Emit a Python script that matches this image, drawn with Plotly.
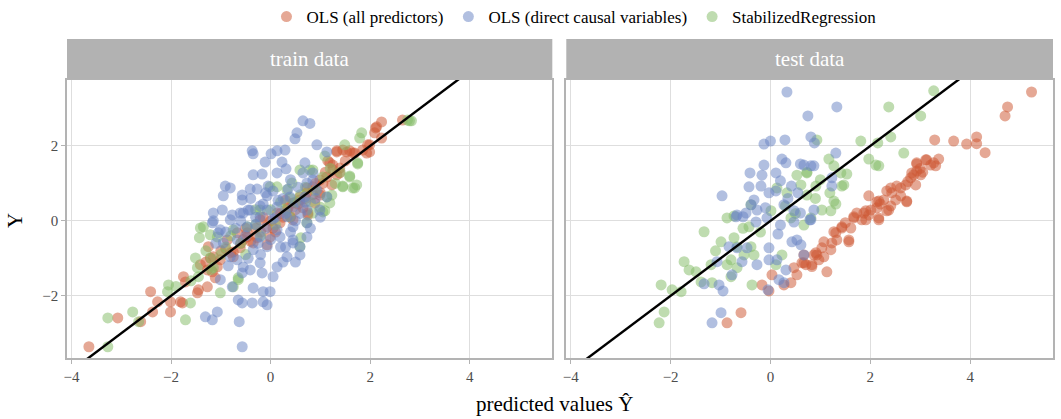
import plotly.graph_objects as go

# ---------------- data (predicted value, observed Y) ----------------
train_all_x = [-3.65, -3.07, -2.61, -2.41, -2.27, -2.37, -2.01, -2.01, -1.81, -1.77, -1.75, -1.71, -1.47, -1.45,
               -1.41, -1.27, -1.25, -1.21, -1.15, -1.17, -1.27, -1.11, -1.07, -1.01, -0.87, -0.75, -0.75, -0.61,
               -0.67, -0.47, -0.47, -0.35, -0.27, -0.21, -0.07, -0.07, -0.01, 0.05, 0.13, 0.19, 0.33, 0.45, 0.45,
               0.59, 0.59, 0.73, 0.73, 0.75, 0.75, 0.85, 0.89, 0.99, 0.99, 1.13, 1.15, 1.19, 1.23, 1.25, 1.25,
               1.33, 1.33, 1.33, 1.39, 1.39, 1.45, 1.53, 1.59, 1.65, 1.69, 1.85, 1.93, 1.95, 1.99, 1.99, 2.09,
               2.11, 2.13, 2.23, 2.23, 2.65, 0.25, -0.30, 0.50, 0.10, -0.55, 0.65, 0.30, -0.90,
               -0.20, 0.00, 0.20, 0.35, 0.55, 0.70, 0.85, -0.40, -0.60, -0.80, -1.00, -1.30, 0.90, 1.05, 1.10,
               -0.15, 0.40, -0.50, 1.00, 1.50]
train_all_y = [-3.36, -2.59, -2.69, -1.89, -2.16, -2.43, -2.43, -2.16, -2.16, -2.19, -1.49, -1.63, -1.92, -1.84,
               -1.17, -1.31, -0.69, -0.99, -0.96, -1.36, -1.76, -1.52, -1.23, -1.04, -0.51, -0.96, -0.83, -0.72,
               -0.32, -0.32, -0.43, -0.59, -0.45, 0.03, -0.64, -0.16, -0.43, -0.19, 0.21, -0.05, 0.29, 0.48, 0.03,
               0.64, 0.56, 0.75, 0.88, 0.21, 0.16, 0.91, 0.48, 1.09, 0.69, 1.17, 1.60, 1.55, 0.96, 1.36, 1.49,
               1.84, 1.23, 1.87, 1.28, 1.41, 1.89, 1.84, 1.87, 1.81, 1.81, 1.89, 1.81, 2.03, 1.84, 2.03, 2.35,
               2.48, 2.51, 2.64, 2.21, 2.69, 0.10, -0.20, 0.30, -0.30, -0.50, 0.35, 0.55, -0.75,
               -0.30, 0.00, 0.20, 0.35, 0.45, 0.60, 0.70, -0.55, -0.60, -0.85, -0.80, -1.10, 1.00, 1.00, 1.30,
               0.10, 0.10, -0.20, 0.75, 1.60]

train_direct_x = [0.65, 0.79, 0.53, 0.49, -0.37, -0.35, 0.01, 0.13, 0.29, 0.93, 1.13, -0.11, 0.23, 0.31, 0.69,
                  0.65, -0.35, -0.17, 0.13, 0.85, -0.91, -0.81, -0.95, -0.57, -0.57, -0.41, -0.27, -0.05, -0.07,
                  0.73, 0.85, 0.93, 0.39, 0.69, 1.13, -1.15, -0.97, -0.77, -0.55, -0.45, -0.21, 0.13, 0.45, 0.59,
                  0.73, 0.99, -1.15, -1.17, -1.01, -0.81, -0.61, -0.41, -0.21, -0.07, 0.33, 0.73, 0.45, 0.13,
                  -0.47, -0.21, 0.19, 0.45, 0.73, 0.59, 0.45, -0.07, -0.35, -0.67, -0.95, -1.05, 0.59, 0.33, 0.13,
                  0.05, -0.21, -0.41, -0.55, -0.67, -0.81, -0.57, -0.17, -1.01, -0.77, -0.35, -0.15, -0.01, -0.65,
                  -0.57, -0.37, -0.15, -0.07, -1.31, -1.07, -1.17, -0.63, -0.57, 0.05, 0.25, -0.30, 0.55, 0.30,
                  -0.10,
                  -0.30, -0.10, 0.10, 0.30, 0.50, 0.60, -0.50, -0.70, -0.90, -0.20, 0.00, 0.20, 0.40, 0.70, 0.90,
                  -0.40, -0.60, 0.35, 0.15, -0.25, 0.80, 1.00, -1.10, -0.85, -0.45, 0.25, 0.50, 0.05, -0.15, 0.40]
train_direct_y = [2.67, 2.60, 2.35, 2.19, 1.87, 1.79, 1.79, 1.87, 1.89, 2.03, 1.84, 1.57, 1.57, 1.39, 1.55,
                  1.28, 1.23, 1.25, 1.28, 1.28, 0.93, 0.88, 0.67, 0.69, 0.56, 0.85, 0.85, 0.93, 0.67,
                  1.01, 1.09, 0.83, 0.64, 0.64, 0.64, 0.21, 0.29, 0.16, 0.21, 0.29, 0.40, 0.37, 0.37, 0.48,
                  0.29, 0.29, 0.00, -0.05, -0.24, 0.03, 0.21, 0.29, 0.11, 0.29, 0.11, -0.05, -0.16, -0.24,
                  -0.16, -0.43, -0.43, -0.51, -0.43, -0.69, -0.59, -0.69, -0.77, -0.51, -0.59, -0.32, -0.91, -0.96,
                  -1.23, -1.49, -1.12, -1.31, -1.23, -1.04, -0.96, -1.39, -1.39, -1.57, -1.76, -1.79, -1.89, -1.89,
                  -2.11, -2.19, -2.19, -2.16, -2.24, -2.56, -2.43, -2.64, -2.69, -3.36, 0.05, 0.60, -0.10, 0.90,
                  -0.70, 0.75,
                  0.10, -0.20, 0.10, 0.20, 0.00, 0.20, -0.40, -0.20, -0.30, -0.90, -0.50, -0.70, -0.30, 0.50, 0.60,
                  0.60, 0.00, 0.85, 0.55, -0.60, -0.20, 0.10, -0.60, -1.20, -1.00, -1.10, -1.10, 0.80, 0.45, 1.10]

train_stab_x = [-3.27, -3.27, -2.77, -2.65, -2.05, -2.07, -1.71, -1.61, -1.51, -1.47, -1.41, -1.43, -1.21, -1.35,
                -1.01, -1.45, -1.15, -0.75, -0.65, -0.65, 0.59, 0.61, 0.43, 0.33, 0.13, -0.01, 0.59, 0.79, 0.85,
                1.05, 1.13, 1.19, 1.09, 1.05, 1.23, 1.49, 1.59, 1.59, 1.45, 1.45, 1.65, 1.69, 1.73, 1.75, 1.75,
                1.79, 1.83, 2.75, 2.83, 2.79, 1.09, 0.85, 0.99, 0.39, -0.21, -0.47, -0.75, -1.07, 0.73, -0.30,
                0.20, -0.90, -1.20, -0.50, 0.10, 0.60, 0.30, -0.20, -1.60, -1.90,
                -0.60, -0.80, -1.00, 0.40, 0.70, 0.90, 1.30, 1.40, -1.30, -0.30, 0.00, 0.50, -1.20, 1.20, 0.80]
train_stab_y = [-3.36, -2.59, -2.43, -2.69, -1.71, -1.89, -2.64, -2.19, -0.99, -1.25, -0.19, -0.45, -0.37, -0.16,
                -1.92, -1.49, -1.25, -1.76, -1.52, -1.57, -0.69, -0.45, 1.01, 0.83, 0.91, 0.91, 1.36, 1.36, 1.36,
                1.17, 0.64, 0.48, 0.27, 0.24, 0.69, 2.03, 1.17, 1.20, 0.91, 0.93, 0.88, 0.88, 0.96, 1.55, 1.52,
                2.21, 2.35, 2.69, 2.67, 2.67, 1.73, 0.21, 0.37, 0.11, 0.29, -0.16, -0.24, -0.43, -0.05, 0.30,
                0.50, -0.70, -1.00, -0.90, -0.10, 0.70, 0.30, -0.40, -1.60, -1.75,
                -0.60, -0.40, -0.90, 0.60, 0.90, 0.80, 1.00, 1.30, -0.80, -0.10, 0.30, 0.50, -1.30, 1.40, 0.50]

test_all_x = [5.23, 4.75, 4.70, 3.29, 3.67, 3.93, 4.13, 4.13, 4.30, 3.13, 3.37, 2.93, 3.21, 3.31, 2.93, 2.87,
              3.01, 2.81, 2.91, 2.71, 2.61, 2.53, 2.41, 2.33, 2.43, 2.61, 2.73, 2.51, 2.27, 1.97, 2.17, 2.41,
              2.33, 2.13, 2.01, 1.91, 1.73, 1.97, 2.17, 1.67, 1.83, 1.67, 1.91, 2.17, 1.61, 1.43, 1.27, 1.33,
              1.57, 1.07, 1.03, 1.21, 0.93, 1.07, 0.97, 0.83, 0.71, 1.13, 0.67, 0.87, 0.67, 0.47, 0.53, 0.41,
              0.27, 0.03, -0.17, -0.03, -0.59, -0.87, 0.63, 0.83, 0.91, 1.23, 1.31, 1.43, 1.57, 1.87, 2.13,
              2.37, 2.73, 2.83, 2.93, 3.11, 3.27, 3.00, 2.20, 1.50, 2.75, 3.05]
test_all_y = [3.44, 3.04, 2.80, 2.16, 2.13, 2.05, 2.24, 2.06, 1.82, 1.63, 1.65, 1.52, 1.49, 1.47, 1.33, 1.23,
              1.23, 1.15, 0.96, 0.96, 0.88, 0.93, 0.88, 0.80, 0.75, 0.67, 0.53, 0.56, 0.56, 0.67, 0.53, 0.40,
              0.27, 0.35, 0.29, 0.27, 0.21, 0.16, 0.08, 0.08, 0.03, 0.11, 0.03, 0.03, -0.19, -0.19, -0.29, -0.51,
              -0.56, -0.56, -0.72, -0.77, -0.91, -0.96, -1.04, -1.17, -1.17, -1.36, -0.91, -0.91, -1.12, -1.25,
              -1.44, -1.65, -1.71, -1.44, -1.71, -1.87, -2.45, -2.72, -1.12, -1.22, -0.85, -0.59, -0.32, -0.16,
              -0.51, 0.21, 0.51, 0.29, 0.51, 1.28, 1.55, 1.63, 1.55, 1.40, 0.45, -0.05, 1.05, 1.30]

test_direct_x = [0.33, 1.33, 0.75, -0.13, 0.00, 0.29, 0.81, 0.88, 1.31, 0.23, 0.31, -0.13, -0.41, -0.17, 0.11,
                 0.60, 0.67, 0.81, 0.87, 0.20, 0.42, -0.43, -0.19, -0.03, 0.11, -0.97, -0.33, -0.39, -0.27,
                 0.27, 0.47, 0.60, -0.49, -0.67, -0.07, 1.23, 1.23, 0.87, 0.79, -0.69, -0.55, -0.29, 0.20, 0.47,
                 0.81, -0.83, -0.67, -0.47, -0.03, 0.53, 0.43, 0.61, -1.07, -0.57, -0.27, -0.03, 0.13, 0.31,
                 0.67, -0.77, 0.17, 0.27, -1.33, -1.03, -0.95, -0.05, -0.99, -1.17, 0.35, -0.10, 0.15, 0.55]
test_direct_y = [3.44, 3.04, 2.80, 2.05, 2.13, 2.16, 2.24, 2.08, 1.81, 1.65, 1.55, 1.49, 1.28, 1.22, 1.28,
                 1.52, 1.49, 1.47, 1.47, 1.07, 0.93, 0.91, 0.93, 0.75, 0.80, 0.67, 0.56, 0.43, 0.29,
                 0.43, 0.27, 0.21, 0.21, 0.16, 0.08, 1.15, 0.93, 0.29, 0.03, 0.11, 0.11, -0.03, -0.11, -0.03,
                 0.03, -0.69, -0.72, -0.72, -0.72, -0.51, -0.56, -0.64, -1.09, -1.09, -1.17, -1.04, -1.04, -1.31,
                 -0.91, -1.44, -1.57, -1.65, -1.68, -1.71, -1.87, -1.84, -2.45, -2.72, 0.60, 0.35, -0.35, 0.75]

test_stab_x = [3.27, 2.37, 3.01, 1.81, 2.15, 2.41, 2.67, 1.97, 2.11, 2.17, 1.17, 1.27, 1.41, 1.53, 1.47, 1.43,
               0.93, 1.19, 0.91, 0.73, 1.27, 1.31, 1.21, 1.03, 0.73, 0.81, 0.53, 0.61, 0.73, 0.33, 0.13, -0.39,
               0.01, -0.87, -0.73, 0.41, -0.43, 0.67, -1.33, -0.99, -0.73, -0.67, -0.39, -0.33, -0.53, -0.79,
               -0.87, -0.67, -1.19, 0.11, 0.23, -1.73, -1.63, -1.49, -1.39, -1.17, -0.79, -0.37, -2.19, -1.97,
               -1.79, -2.13, -2.23, 0.30, -0.20, 0.90, -0.55, 1.00, 0.50, -1.10]
test_stab_y = [3.47, 3.04, 2.80, 2.13, 2.08, 2.24, 1.81, 1.65, 1.49, 1.47, 1.65, 1.47, 1.28, 1.25, 0.96, 0.93,
               2.16, 0.75, 0.93, 1.28, 0.53, 0.45, 0.27, 0.29, 0.69, 0.08, 1.22, 0.96, 1.30, 0.75, 0.88, 0.43,
               0.27, 0.08, 0.13, 0.08, -0.16, -0.11, -0.29, -0.56, -0.45, -0.69, -0.69, -0.91, -0.91, -1.04,
               -1.17, -1.25, -1.17, -1.17, -0.91, -1.09, -1.31, -1.36, -1.63, -1.65, -1.49, -1.71, -1.71, -1.84,
               -1.89, -2.43, -2.72, 0.40, -0.30, 0.60, -0.20, 1.10, 0.20, -0.80]

series_names = ["OLS (all predictors)", "OLS (direct causal variables)", "StabilizedRegression"]
panel_titles = ["train data", "test data"]
x_ticks = [-4, -2, 0, 2, 4]
y_ticks = [-2, 0, 2]
x_range = [-4.09, 5.66]
y_range = [-3.66, 3.76]

# ---------------- styling ----------------
FONT = "Liberation Serif, DejaVu Serif, serif"
colors = {"OLS (all predictors)": "rgb(205,88,52)",
          "OLS (direct causal variables)": "rgb(105,133,196)",
          "StabilizedRegression": "rgb(132,187,104)"}
ranks = {"OLS (all predictors)": 1, "OLS (direct causal variables)": 2, "StabilizedRegression": 3}

panels = [
    {"xa": "x", "ya": "y", "data": {"OLS (all predictors)": (train_all_x, train_all_y),
                                    "OLS (direct causal variables)": (train_direct_x, train_direct_y),
                                    "StabilizedRegression": (train_stab_x, train_stab_y)}},
    {"xa": "x2", "ya": "y2", "data": {"OLS (all predictors)": (test_all_x, test_all_y),
                                      "OLS (direct causal variables)": (test_direct_x, test_direct_y),
                                      "StabilizedRegression": (test_stab_x, test_stab_y)}},
]

draw_order = ["OLS (all predictors)", "StabilizedRegression", "OLS (direct causal variables)"]

fig = go.Figure()
for i, p in enumerate(panels):
    for name in draw_order:
        xs, ys = p["data"][name]
        fig.add_trace(go.Scatter(
            x=xs, y=ys, mode="markers", name=name, legendgroup=name, legendrank=ranks[name],
            showlegend=(i == 0), xaxis=p["xa"], yaxis=p["ya"],
            marker=dict(size=11, color=colors[name], opacity=0.52, line=dict(width=0)),
            hoverinfo="skip"))
    # identity line y = x across the axis range
    fig.add_trace(go.Scatter(x=x_range, y=x_range, mode="lines", showlegend=False,
                             xaxis=p["xa"], yaxis=p["ya"], line=dict(color="black", width=2.4),
                             hoverinfo="skip"))

W, H = 1061, 419
ml, mr, mt, mb = 67, 6, 80, 61
pw, ph = W - ml - mr, H - mt - mb
split_l = (553.3 - ml) / pw
split_r = (567.3 - ml) / pw

axis_common = dict(showgrid=True, gridcolor="#dedede", gridwidth=1, zeroline=False,
                   showline=True, linecolor="#b3b3b3", linewidth=1.6, mirror=True,
                   ticks="outside", ticklen=4, tickcolor="#b3b3b3", tickwidth=1,
                   tickfont=dict(family=FONT, size=15, color="#4d4d4d"))

fig.update_layout(
    width=W, height=H, margin=dict(l=ml, r=mr, t=mt, b=mb),
    plot_bgcolor="white", paper_bgcolor="white",
    font=dict(family=FONT, color="black"),
    xaxis=dict(domain=[0, split_l], range=x_range, tickvals=x_ticks, anchor="y", **axis_common),
    xaxis2=dict(domain=[split_r, 1], range=x_range, tickvals=x_ticks, anchor="y2", **axis_common),
    yaxis=dict(range=y_range, tickvals=y_ticks, anchor="x", **axis_common),
    yaxis2=dict(range=y_range, tickvals=y_ticks, anchor="x2", matches="y", **{**axis_common, "ticks": ""},
                showticklabels=False),
    legend=dict(orientation="h", xref="paper", x=(575 - ml) / pw, xanchor="center",
                yref="container", y=1 - 17 / H, yanchor="middle",
                font=dict(family=FONT, size=17, color="black"), itemwidth=30, tracegroupgap=0),
)

strip_y0 = (H - mb - 79) / ph
strip_y1 = (H - mb - 39) / ph
for i, p in enumerate(panels):
    xd = p["xa"] + " domain"
    fig.add_shape(type="rect", xref=xd, yref="paper", x0=0, x1=1, y0=strip_y0, y1=strip_y1,
                  fillcolor="#b2b2b2", line=dict(width=0), layer="above")
    fig.add_annotation(xref=xd, yref="paper", x=0.5, y=(strip_y0 + strip_y1) / 2, text=panel_titles[i],
                       showarrow=False, font=dict(family=FONT, size=21, color="white"),
                       xanchor="center", yanchor="middle")

fig.add_annotation(xref="paper", yref="paper", x=(555 - ml) / pw, y=(H - mb - 404) / ph,
                   text="predicted values Ŷ", showarrow=False,
                   font=dict(family=FONT, size=21, color="black"), xanchor="center", yanchor="middle")
fig.add_annotation(xref="paper", yref="paper", x=(15 - ml) / pw, y=(H - mb - 221) / ph,
                   text="Y", showarrow=False, textangle=-90,
                   font=dict(family=FONT, size=21, color="black"), xanchor="center", yanchor="middle")

fig.write_html("out.html")
